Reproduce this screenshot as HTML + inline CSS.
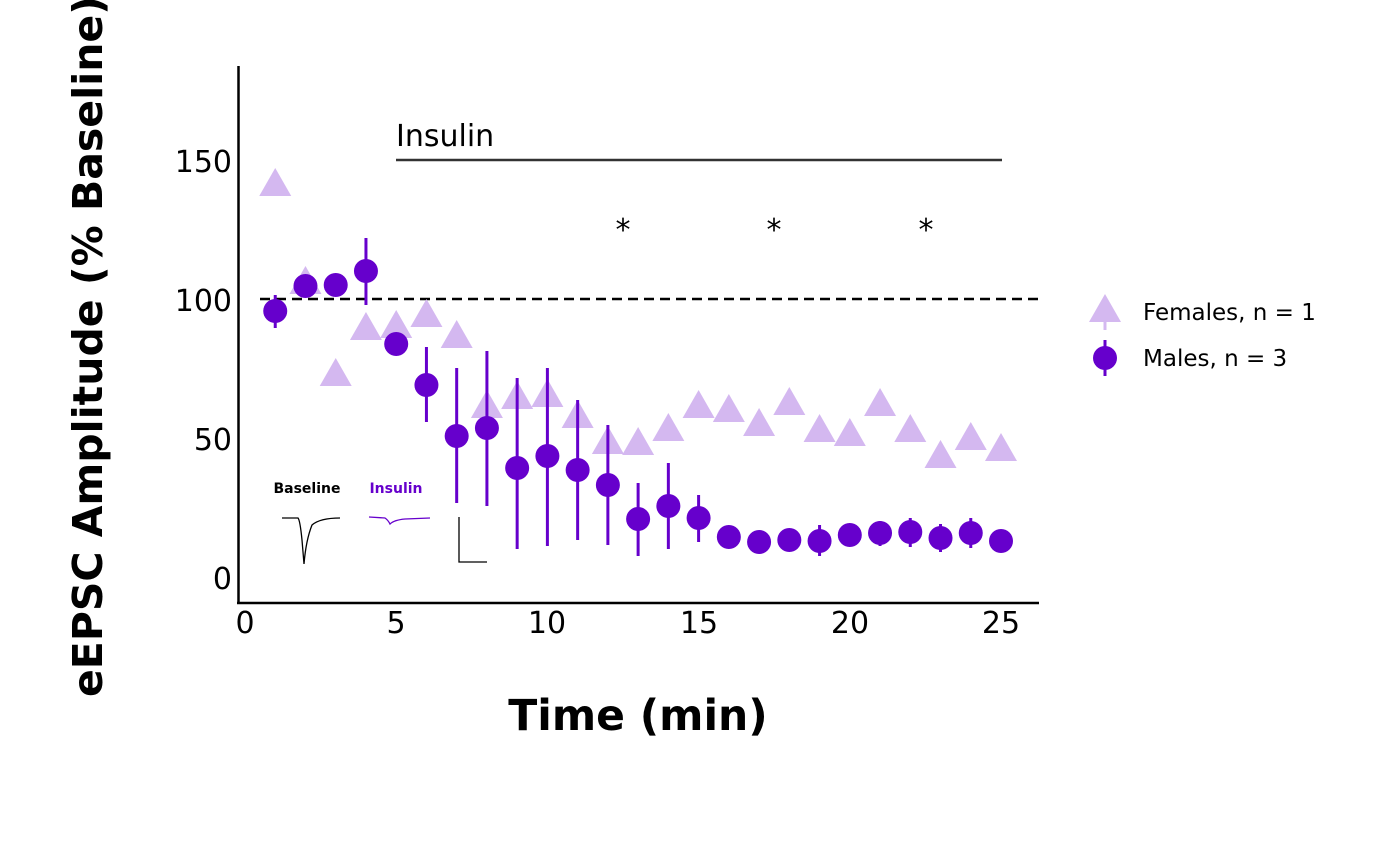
<!DOCTYPE html>
<html><head><meta charset="utf-8"><style>html,body{margin:0;padding:0;background:#fff}svg{display:block}</style></head>
<body>
<svg width="1400" height="866" viewBox="0 0 1400 866" xmlns="http://www.w3.org/2000/svg" font-family="DejaVu Sans, Liberation Sans, sans-serif">
<rect width="1400" height="866" fill="#fff"/>
<line x1="238.5" y1="66" x2="238.5" y2="604" stroke="#000" stroke-width="2.5"/>
<line x1="237" y1="603" x2="1039" y2="603" stroke="#000" stroke-width="2.5"/>
<g font-size="30" fill="#000" text-anchor="end">
<text x="232" y="172">150</text>
<text x="232" y="311">100</text>
<text x="232" y="450">50</text>
<text x="232" y="589">0</text>
</g>
<g font-size="30" fill="#000" text-anchor="middle">
<text x="245" y="633">0</text>
<text x="396" y="633">5</text>
<text x="547" y="633">10</text>
<text x="699" y="633">15</text>
<text x="850" y="633">20</text>
<text x="1001" y="633">25</text>
</g>
<text x="638" y="730" font-size="42.5" font-weight="bold" text-anchor="middle">Time (min)</text>
<text transform="translate(102,697) rotate(-90)" font-size="41" font-weight="bold">eEPSC Amplitude (% Baseline)</text>
<line x1="260" y1="299" x2="1040" y2="299" stroke="#000" stroke-width="2.5" stroke-dasharray="10,6"/>
<text x="396" y="146" font-size="30">Insulin</text>
<line x1="396" y1="160" x2="1002" y2="160" stroke="#333" stroke-width="2.5"/>
<g font-size="30" text-anchor="middle"><text x="623" y="240">*</text><text x="774" y="240">*</text><text x="926" y="240">*</text></g>
<text x="307" y="493" font-size="14" font-weight="bold" text-anchor="middle">Baseline</text>
<text x="396" y="493" font-size="14" font-weight="bold" fill="#6600cc" text-anchor="middle">Insulin</text>
<path d="M282 518 L298 518 Q300 520 302 540 L304 564 Q306 540 312 525 Q320 518 340 518" fill="none" stroke="#000" stroke-width="1.3"/>
<path d="M369 517 L385 518 Q388 520 390 524 Q394 520 405 519 L430 518" fill="none" stroke="#6600cc" stroke-width="1.3"/>
<path d="M459 517 L459 562 L487 562" fill="none" stroke="#000" stroke-width="1.3"/>
<g fill="#d4b8f0" id="tri"></g>
<g id="males"></g>
<line x1="1105" y1="312" x2="1105" y2="330" stroke="#d4b8f0" stroke-width="3"/>
<polygon points="1105,294 1089,322 1121,322" fill="#d4b8f0"/>
<text x="1143" y="320" font-size="23">Females, n = 1</text>
<line x1="1105" y1="340" x2="1105" y2="376" stroke="#6600cc" stroke-width="3"/>
<circle cx="1105" cy="358" r="12" fill="#6600cc"/>
<text x="1143" y="366" font-size="23">Males, n = 3</text>
<script>
var ns="http://www.w3.org/2000/svg";
var F=[184,282,374,328,326,315,336,406,397,395,416,442,443,429,406,410,424,403,430,434,404,430,456,438,449];
var M=[[311,295,328],[286],[285],[271,238,305],[344],[385,347,422],[436,368,503],[428,351,506],[468,378,549],[456,368,546],[470,400,540],[485,425,545],[519,483,556],[506,463,549],[518,495,542],[537],[542],[540],[541,525,556],[535],[533,521,546],[532,518,547],[538,524,552],[533,518,548],[541]];
var tg=document.getElementById('tri'),mg=document.getElementById('males');
F.forEach(function(y,i){var x=245+(i+1)*30.24;var p=document.createElementNS(ns,'polygon');p.setAttribute('points',x+','+(y-16)+' '+(x-16)+','+(y+12)+' '+(x+16)+','+(y+12));tg.appendChild(p);});
M.forEach(function(m,i){var x=245+(i+1)*30.24;if(m.length>1){var l=document.createElementNS(ns,'line');l.setAttribute('x1',x);l.setAttribute('x2',x);l.setAttribute('y1',m[1]);l.setAttribute('y2',m[2]);l.setAttribute('stroke','#6600cc');l.setAttribute('stroke-width','3');mg.appendChild(l);}var c=document.createElementNS(ns,'circle');c.setAttribute('cx',x);c.setAttribute('cy',m[0]);c.setAttribute('r','12');c.setAttribute('fill','#6600cc');mg.appendChild(c);});
</script>
</svg>
</body></html>
